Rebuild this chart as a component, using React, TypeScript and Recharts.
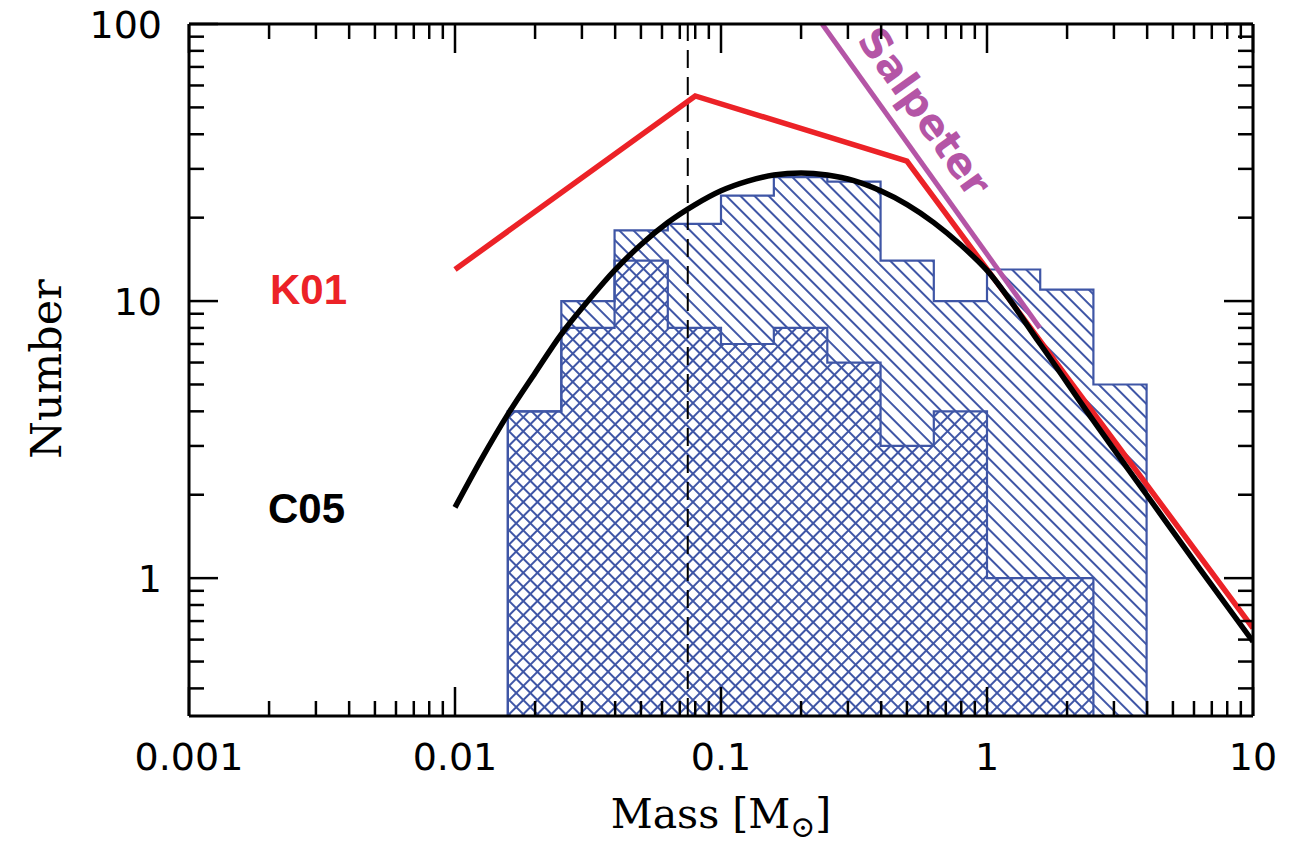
import { ComposedChart, XAxis, YAxis, Area, Line, ReferenceLine } from 'recharts';

const X_MIN = 0.001;
const X_MAX = 10;
const Y_MIN = 0.318;
const Y_MAX = 100;

// histogram bins (0.2 dex wide)
const BIN_EDGES = [0.0158, 0.0251, 0.0398, 0.0631, 0.1, 0.158, 0.251, 0.398, 0.631, 1, 1.585, 2.512, 3.981];
const ALL_COUNTS = [4, 10, 18, 19, 24, 28, 27, 14, 10, 13, 11, 5];
const SUB_COUNTS = [4, 8, 14, 8, 7, 8, 6, 3, 4, 1, 1, 0];

// C05 curve
const C05_MASS = [0.01, 0.0126, 0.0158, 0.02, 0.0251, 0.0316, 0.0398, 0.0501, 0.0631, 0.0794, 0.1, 0.126, 0.158, 0.2, 0.251, 0.316, 0.398, 0.501, 0.631, 0.794, 1, 1.585, 2.512, 3.981, 6.31, 10];
const C05_N = [1.8, 2.7, 3.9, 5.5, 7.6, 10.0, 12.9, 16.0, 19.2, 22.2, 25.0, 27.1, 28.5, 29.0, 28.5, 27.2, 25.0, 22.3, 19.2, 16.0, 12.9, 7.0, 3.7, 2.0, 1.08, 0.59];

// K01 broken power law
const K01_MASS = [0.01, 0.08, 0.5, 10];
const K01_N = [13, 55, 32, 0.66];

// Salpeter slope
const SAL_MASS = [0.24, 1.58];
const SAL_N = [100, 8];

const H_BURN = 0.075;

const X_TICKS = [
  0.001, 0.002, 0.003, 0.004, 0.005, 0.006, 0.007, 0.008, 0.009,
  0.01, 0.02, 0.03, 0.04, 0.05, 0.06, 0.07, 0.08, 0.09,
  0.1, 0.2, 0.3, 0.4, 0.5, 0.6, 0.7, 0.8, 0.9,
  1, 2, 3, 4, 5, 6, 7, 8, 9, 10,
];
const Y_TICKS = [
  0.4, 0.5, 0.6, 0.7, 0.8, 0.9,
  1, 2, 3, 4, 5, 6, 7, 8, 9,
  10, 20, 30, 40, 50, 60, 70, 80, 90, 100,
];

const BLUE = '#3f56a6';
const RED = '#ec2227';
const PURPLE = '#b455a6';

const isMajor = (v: number) => Math.abs(Math.log10(v) - Math.round(Math.log10(v))) < 1e-6;

function stepData(counts: number[]) {
  let n = counts.length;
  while (n > 0 && counts[n - 1] === 0) n--;
  const pts = [{ x: BIN_EDGES[0], y: Y_MIN }];
  for (let i = 0; i < n; i++) pts.push({ x: BIN_EDGES[i], y: counts[i] });
  pts.push({ x: BIN_EDGES[n], y: counts[n - 1] });
  pts.push({ x: BIN_EDGES[n], y: Y_MIN });
  return pts;
}

const zip = (xs: number[], ys: number[]) => xs.map((x, i) => ({ x, y: ys[i] }));

const numFont = { fontFamily: 'DejaVu Sans', fontSize: 38, fill: '#000' };

const makeXTick = (side: 'bottom' | 'top') => (props: any) => {
  const { x, y, payload } = props;
  const major = isMajor(payload.value);
  const len = major ? 29 : 15;
  const dir = side === 'bottom' ? -1 : 1;
  return (
    <g>
      <line x1={x} x2={x} y1={y} y2={y + dir * len} stroke="#000" strokeWidth={2.5} />
      {side === 'bottom' && major && (
        <text x={x} y={y + 54} textAnchor="middle" {...numFont}>
          {String(payload.value)}
        </text>
      )}
    </g>
  );
};

const makeYTick = (side: 'left' | 'right') => (props: any) => {
  const { x, y, payload } = props;
  const major = isMajor(payload.value);
  const len = major ? 29 : 15;
  const dir = side === 'left' ? 1 : -1;
  return (
    <g>
      <line x1={x} x2={x + dir * len} y1={y} y2={y} stroke="#000" strokeWidth={2.5} />
      {side === 'left' && major && (
        <text x={x - 27} y={y + 14} textAnchor="end" {...numFont}>
          {String(payload.value)}
        </text>
      )}
    </g>
  );
};

const frame = { stroke: '#000', strokeWidth: 3 };

export default function App() {
  return (
    <div style={{ position: 'absolute', left: 0, top: 0, background: '#fff' }}>
      <ComposedChart width={1291} height={847} margin={{ top: 0, right: 0, bottom: 0, left: 0 }}>
        <defs>
          <pattern id="hatchAll" patternUnits="userSpaceOnUse" width="10" height="10" patternTransform="rotate(45)">
            <line x1="0" y1="5" x2="10" y2="5" stroke={BLUE} strokeWidth={2} />
          </pattern>
          <pattern id="hatchSub" patternUnits="userSpaceOnUse" width="10" height="10" patternTransform="rotate(-45)">
            <line x1="0" y1="5" x2="10" y2="5" stroke={BLUE} strokeWidth={2} />
          </pattern>
        </defs>

        <XAxis
          xAxisId="b"
          type="number"
          dataKey="x"
          scale="log"
          domain={[X_MIN, X_MAX]}
          allowDataOverflow
          ticks={X_TICKS}
          interval={0}
          tickSize={0}
          tickMargin={0}
          tickLine={false}
          tick={makeXTick('bottom')}
          axisLine={frame}
          height={131}
        />
        <XAxis
          xAxisId="t"
          orientation="top"
          type="number"
          dataKey="x"
          scale="log"
          domain={[X_MIN, X_MAX]}
          allowDataOverflow
          ticks={X_TICKS}
          interval={0}
          tickSize={0}
          tickMargin={0}
          tickLine={false}
          tick={makeXTick('top')}
          axisLine={frame}
          height={24}
        />
        <YAxis
          yAxisId="l"
          type="number"
          scale="log"
          domain={[Y_MIN, Y_MAX]}
          allowDataOverflow
          ticks={Y_TICKS}
          interval={0}
          tickSize={0}
          tickMargin={0}
          tickLine={false}
          tick={makeYTick('left')}
          axisLine={frame}
          width={189}
        />
        <YAxis
          yAxisId="r"
          orientation="right"
          type="number"
          scale="log"
          domain={[Y_MIN, Y_MAX]}
          allowDataOverflow
          ticks={Y_TICKS}
          interval={0}
          tickSize={0}
          tickMargin={0}
          tickLine={false}
          tick={makeYTick('right')}
          axisLine={frame}
          width={38}
        />

        <Area
          xAxisId="b"
          yAxisId="l"
          data={stepData(ALL_COUNTS)}
          dataKey="y"
          type="stepAfter"
          baseValue={Y_MIN}
          stroke={BLUE}
          strokeWidth={2.2}
          fill="url(#hatchAll)"
          fillOpacity={1}
          dot={false}
          activeDot={false}
          isAnimationActive={false}
        />
        <Area
          xAxisId="b"
          yAxisId="l"
          data={stepData(SUB_COUNTS)}
          dataKey="y"
          type="stepAfter"
          baseValue={Y_MIN}
          stroke={BLUE}
          strokeWidth={2.2}
          fill="url(#hatchSub)"
          fillOpacity={1}
          dot={false}
          activeDot={false}
          isAnimationActive={false}
        />

        <ReferenceLine xAxisId="b" yAxisId="l" x={H_BURN} stroke="#000" strokeWidth={2} strokeDasharray="18 9" />

        <Line
          xAxisId="b"
          yAxisId="l"
          data={zip(K01_MASS, K01_N)}
          dataKey="y"
          type="linear"
          stroke={RED}
          strokeWidth={5.5}
          dot={false}
          activeDot={false}
          isAnimationActive={false}
        />
        <Line
          xAxisId="b"
          yAxisId="l"
          data={zip(C05_MASS, C05_N)}
          dataKey="y"
          type="monotone"
          stroke="#000"
          strokeWidth={5.5}
          dot={false}
          activeDot={false}
          isAnimationActive={false}
        />
        <Line
          xAxisId="b"
          yAxisId="l"
          data={zip(SAL_MASS, SAL_N)}
          dataKey="y"
          type="linear"
          stroke={PURPLE}
          strokeWidth={5}
          dot={false}
          activeDot={false}
          isAnimationActive={false}
        />

        <text x={270} y={304} fontFamily="Liberation Sans" fontWeight="bold" fontSize={42} fill={RED}>
          K01
        </text>
        <text x={268} y={523} fontFamily="Liberation Sans" fontWeight="bold" fontSize={42} fill="#000">
          C05
        </text>
        <text
          x={856}
          y={40}
          transform="rotate(54.5 856 40)"
          fontFamily="DejaVu Sans"
          fontWeight="bold"
          fontSize={41}
          fill={PURPLE}
        >
          Salpeter
        </text>

        <text x={61} y={369} transform="rotate(-90 61 369)" textAnchor="middle" fontFamily="DejaVu Serif" fontSize={43} fill="#000">
          Number
        </text>
        <text x={721} y={828} textAnchor="middle" fontFamily="DejaVu Serif" fontSize={41} fill="#000">
          Mass [M<tspan fontSize={30} dy={9}>⊙</tspan><tspan dy={-9}>]</tspan>
        </text>
      </ComposedChart>
    </div>
  );
}
